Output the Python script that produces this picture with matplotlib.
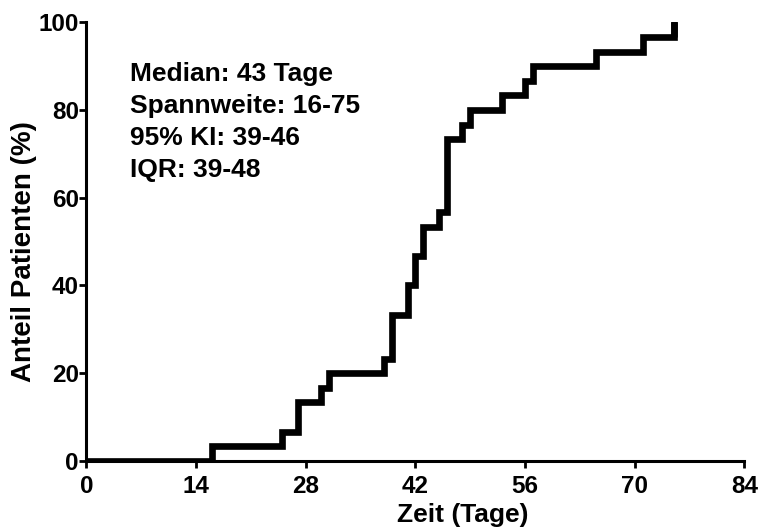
import matplotlib.pyplot as plt

plt.rcParams['font.family'] = ['Liberation Sans', 'DejaVu Sans']
plt.rcParams['font.weight'] = 'bold'

# Ereigniszeiten (Tage) und kumulativer Anteil (%)
days = [0, 16, 25, 27, 30, 31, 38, 39, 41, 42, 43, 45, 46, 48, 49, 53, 56, 57, 65, 71, 75]
percent = [0, 3.33, 6.67, 13.33, 16.67, 20, 23.33, 33.33, 40, 46.67, 53.33, 56.67,
           73.33, 76.67, 80, 83.33, 86.67, 90, 93.33, 96.67, 100]
x_ticks = [0, 14, 28, 42, 56, 70, 84]
y_ticks = [0, 20, 40, 60, 80, 100]
stats = ["Median: 43 Tage", "Spannweite: 16-75", "95% KI: 39-46", "IQR: 39-48"]

fig = plt.figure(figsize=(7.58, 5.31), dpi=100)
ax = fig.add_axes([0.114, 0.132, 0.868, 0.826])

ax.step(days, percent, where='post', color='black', lw=4.8, solid_joinstyle='miter')
ax.plot([75, 75], [96.67, 100], color='black', lw=4.8, solid_capstyle='butt')

ax.set_xlim(0, 84)
ax.set_ylim(0, 100)
ax.set_xticks(x_ticks)
ax.set_yticks(y_ticks)
ax.tick_params(width=2, length=5, labelsize=17.5)
ax.tick_params(axis='x', pad=5)
ax.tick_params(axis='y', pad=0.5)
for s in ['top', 'right']:
    ax.spines[s].set_visible(False)
for s in ['left', 'bottom']:
    ax.spines[s].set_linewidth(2.2)
    ax.spines[s].set_clip_on(False)

ax.set_xlabel("Zeit (Tage)", fontsize=19, fontweight='bold')
ax.xaxis.set_label_coords(0.572, -0.097)
ax.set_ylabel("Anteil Patienten (%)", fontsize=20, fontweight='bold')
ax.yaxis.set_label_coords(-0.075, 0.477)

ax.text(5.6, 91.0, "\n".join(stats), fontsize=19, fontweight='bold',
        va='top', ha='left', linespacing=1.42)

fig.savefig("out.png", dpi=100)
